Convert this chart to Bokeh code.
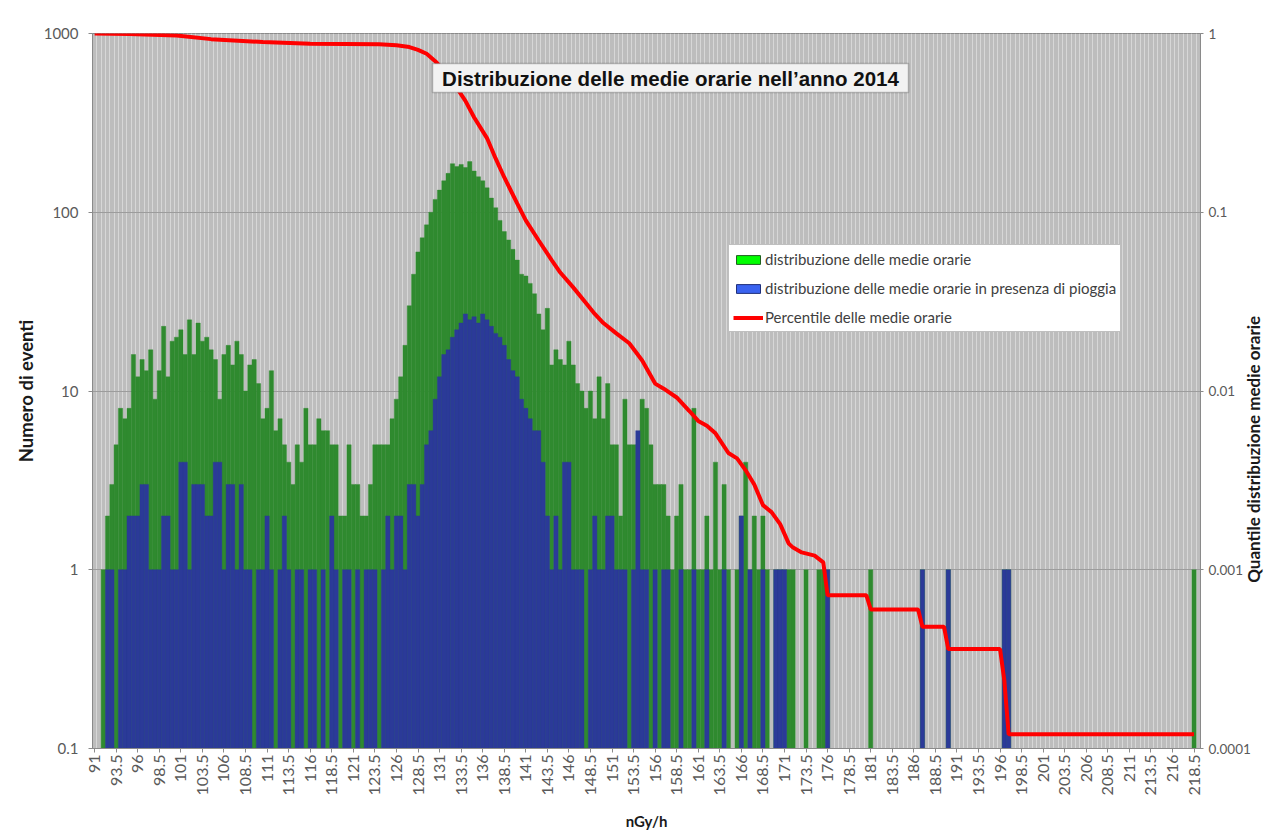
import math
from bokeh.plotting import figure
from bokeh.models import (Range1d, LogAxis, FixedTicker, LogScale, ColumnDataSource,
                          Legend, LegendItem, Label, BoxAnnotation)
from bokeh.embed import file_html
from bokeh.resources import INLINE

# ---------------- data ----------------
# categories: nGy/h bins 91 .. 218.5, step 0.5 (256 bins)
categories = [91 + 0.5 * k for k in range(256)]

x_tick_labels = ["91", "93.5", "96", "98.5", "101", "103.5", "106", "108.5", "111", "113.5",
                 "116", "118.5", "121", "123.5", "126", "128.5", "131", "133.5", "136", "138.5",
                 "141", "143.5", "146", "148.5", "151", "153.5", "156", "158.5", "161", "163.5",
                 "166", "168.5", "171", "173.5", "176", "178.5", "181", "183.5", "186", "188.5",
                 "191", "193.5", "196", "198.5", "201", "203.5", "206", "208.5", "211", "213.5",
                 "216", "218.5"]

# number of hourly means in each bin (all)
green_counts = [
    0, 0, 1, 2, 3, 5, 8, 7, 8, 16, 12, 15, 13, 17, 9, 13,              # 91 - 98.5
    23, 12, 19, 20, 22, 16, 25, 16, 24, 19, 20, 17, 15, 9, 16, 18,      # 99 - 106.5
    14, 19, 16, 10, 14, 15, 11, 7, 8, 13, 6, 7, 5, 4, 3, 5,             # 107 - 114.5
    4, 8, 5, 5, 7, 6, 6, 5, 5, 2, 2, 5, 3, 3, 2, 2,                     # 115 - 122.5
    3, 5, 5, 5, 5, 7, 9, 12, 18, 30, 45, 60, 72, 85, 100, 118,          # 123 - 130.5
    133, 150, 165, 187, 180, 185, 178, 192, 170, 158, 150, 137, 120, 106, 90, 78,   # 131 - 138.5
    70, 62, 54, 45, 44, 40, 35, 27, 22, 29, 14, 17, 15, 14, 19, 14,     # 139 - 146.5
    11, 10, 8, 10, 7, 12, 7, 11, 5, 5, 2, 9, 5, 5, 5, 9,                # 147 - 154.5
    8, 5, 3, 3, 3, 2, 1, 2, 3, 1, 1, 8, 1, 1, 2, 1,                     # 155 - 162.5
    4, 1, 3, 1, 0, 1, 2, 4, 1, 2, 1, 2, 1, 0, 1, 1,                     # 163 - 170.5
    1, 1, 1, 0, 0, 1, 0, 0, 1, 1, 1, 0, 0, 0, 0, 0,                     # 171 - 178.5
    0, 0, 0, 0, 1, 0, 0, 0, 0, 0, 0, 0, 0, 0, 0, 0,                     # 179 - 186.5
    1, 0, 0, 0, 0, 0, 1, 0, 0, 0, 0, 0, 0, 0, 0, 0,                     # 187 - 194.5
    0, 0, 0, 1, 1, 0, 0, 0, 0, 0, 0, 0, 0, 0, 0, 0,                     # 195 - 202.5
    0, 0, 0, 0, 0, 0, 0, 0, 0, 0, 0, 0, 0, 0, 0, 0,                     # 203 - 210.5
    0, 0, 0, 0, 0, 0, 0, 0, 0, 0, 0, 0, 0, 0, 0, 1,                     # 211 - 218.5
]

# number of hourly means in each bin with rain
rain_counts = [
    0, 0, 0, 1, 1, 0, 1, 1, 2, 2, 2, 3, 3, 1, 1, 1,
    2, 2, 1, 1, 4, 4, 1, 3, 3, 3, 2, 2, 4, 4, 1, 3,
    3, 1, 3, 1, 1, 0, 1, 1, 2, 1, 0, 1, 2, 1, 0, 1,
    1, 0, 1, 1, 0, 1, 0, 2, 1, 0, 1, 1, 0, 1, 0, 1,
    1, 1, 0, 1, 2, 1, 2, 2, 1, 3, 3, 2, 3, 5, 6, 9,
    12, 16, 17, 20, 22, 24, 27, 25, 26, 24, 27, 25, 23, 21, 20, 18,
    15, 13, 12, 9, 8, 7, 6, 6, 4, 2, 1, 2, 1, 4, 4, 1,
    1, 1, 0, 1, 2, 1, 1, 2, 2, 1, 1, 1, 0, 1, 6, 1,
    1, 0, 1, 0, 1, 1, 0, 0, 1, 0, 0, 1, 0, 0, 1, 0,
    0, 0, 1, 0, 0, 0, 2, 0, 1, 0, 0, 1, 0, 0, 1, 1,
    1, 0, 0, 0, 0, 0, 0, 0, 0, 0, 1, 0, 0, 0, 0, 0,
    0, 0, 0, 0, 0, 0, 0, 0, 0, 0, 0, 0, 0, 0, 0, 0,
    1, 0, 0, 0, 0, 0, 1, 0, 0, 0, 0, 0, 0, 0, 0, 0,
    0, 0, 0, 1, 1, 0, 0, 0, 0, 0, 0, 0, 0, 0, 0, 0,
    0, 0, 0, 0, 0, 0, 0, 0, 0, 0, 0, 0, 0, 0, 0, 0,
    0, 0, 0, 0, 0, 0, 0, 0, 0, 0, 0, 0, 0, 0, 0, 0,
]

# percentile (exceedance fraction) of the hourly means
pct_x = [91, 95, 100.5, 104.5, 110.5, 116, 124, 126, 127.5, 128.5, 129.5, 130.5, 131.5,
         132.5, 134, 135, 136.5, 137.5, 138.5, 140, 141, 142.5, 144, 145, 146.5, 148, 149,
         150, 151.5, 153, 154.5, 156, 157, 158.5, 160, 161, 162, 163, 164.5, 165.5, 166.5,
         167.5, 168.5, 169.5, 170.5, 171.5, 172, 173, 174.5, 175.5, 176, 180.5, 181, 186.5,
         187, 189.5, 190, 196, 196.5, 197, 218.5]
pct_y = [1.0, 0.995, 0.975, 0.93, 0.895, 0.875, 0.87, 0.86, 0.84, 0.81, 0.77, 0.70, 0.62,
         0.54, 0.42, 0.34, 0.26, 0.20, 0.157, 0.112, 0.09, 0.0695, 0.054, 0.046, 0.038, 0.031,
         0.027, 0.024, 0.021, 0.0185, 0.0148, 0.011, 0.0103, 0.0092, 0.0077, 0.0068, 0.0064,
         0.0058, 0.0045, 0.0042, 0.0036, 0.0030, 0.0023, 0.0021, 0.0018, 0.0014, 0.00133,
         0.00125, 0.0012, 0.0011, 0.00072, 0.00072, 0.0006, 0.0006, 0.00048, 0.00048,
         0.00036, 0.00036, 0.00024, 0.00012, 0.00012]

y_left_ticks = [0.1, 1, 10, 100, 1000]
y_left_labels = ["0.1", "1", "10", "100", "1000"]
y_right_ticks = [0.0001, 0.001, 0.01, 0.1, 1]
y_right_labels = ["0.0001", "0.001", "0.01", "0.1", "1"]

title_text = "Distribuzione delle medie orarie nell\u2019anno 2014"
legend_labels = ["distribuzione delle medie orarie",
                 "distribuzione delle medie orarie in presenza di pioggia",
                 "Percentile delle medie orarie"]
left_axis_title = "Numero di eventi"
right_axis_title = "Quantile distribuzione medie orarie"
x_axis_title = "nGy/h"

# ---------------- figure ----------------
FONT = "Lato"
p = figure(width=1277, height=837,
           x_range=Range1d(90.75, 219.25), y_range=Range1d(0.1, 1000),
           y_axis_type="log", output_backend="svg", toolbar_location=None,
           min_border_left=92, min_border_right=71, min_border_top=33, min_border_bottom=89)
p.background_fill_color = "#bdbdbd"
p.border_fill_color = "white"
p.outline_line_color = "#8a8a8a"

p.extra_y_ranges = {"q": Range1d(0.0001, 1)}
p.extra_y_scales = {"q": LogScale()}

# grid
p.xgrid.ticker = FixedTicker(ticks=[c - 0.25 for c in categories] + [categories[-1] + 0.25])
p.xgrid.grid_line_color = "#d7d7d7"
p.xgrid.grid_line_width = 1
p.ygrid.ticker = FixedTicker(ticks=[1, 10, 100])
p.ygrid.grid_line_color = "#9c9c9c"

# bars
g_src = ColumnDataSource(dict(
    x=[c for c, v in zip(categories, green_counts) if v > 0],
    top=[v for v in green_counts if v > 0]))
b_src = ColumnDataSource(dict(
    x=[c for c, v in zip(categories, rain_counts) if v > 0],
    top=[v for v in rain_counts if v > 0]))
p.vbar(x="x", top="top", bottom=0.01, width=0.5, source=g_src,
       fill_color="#2f8a2f", line_color="#2f8a2f", line_width=0.4)
p.vbar(x="x", top="top", bottom=0.01, width=0.5, source=b_src,
       fill_color="#2b3a98", line_color="#2b3a98", line_width=0.4)

# percentile line
p.line(x=pct_x, y=pct_y, y_range_name="q", line_color="#ff0000", line_width=4)

# legend proxies (placed outside the visible x range so only the legend shows them)
lg_g = p.vbar(x=[0], top=[1], width=0.5, fill_color="#00ff00", line_color="#1f5f1f")
lg_b = p.vbar(x=[0], top=[1], width=0.5, fill_color="#3a63f0", line_color="#1f2f7a")
lg_r = p.line(x=[0, 1], y=[1, 1], line_color="#ff0000", line_width=4)
legend = Legend(items=[LegendItem(label=legend_labels[0], renderers=[lg_g]),
                       LegendItem(label=legend_labels[1], renderers=[lg_b]),
                       LegendItem(label=legend_labels[2], renderers=[lg_r])],
                location=(636, 416))
legend.background_fill_color = "white"
legend.background_fill_alpha = 1
legend.border_line_color = "#7f7f7f"
legend.label_text_font = FONT
legend.label_text_font_size = "15px"
legend.label_text_color = "#404040"
legend.glyph_width = 30
legend.glyph_height = 11
legend.label_height = 20
legend.spacing = 9
legend.padding = 4
legend.margin = 0
legend.label_standoff = 2
p.add_layout(legend)

# axes
TICK_COLOR = "#5a5a5a"
yl = p.yaxis[0]
yl.ticker = FixedTicker(ticks=y_left_ticks)
yl.major_label_overrides = dict(zip(y_left_ticks, y_left_labels))
yl.axis_label = left_axis_title

yr = LogAxis(y_range_name="q", ticker=FixedTicker(ticks=y_right_ticks))
yr.major_label_overrides = dict(zip(y_right_ticks, y_right_labels))
# the title reads bottom-to-top; it is anchored at the bottom of the axis and pushed up
# with em-spaces so that it sits where the original one is
yr.axis_label = "\u2003" * 13 + right_axis_title
try:
    yr.axis_label_orientation = math.pi / 2
    yr.axis_label_align = "start"
except Exception:
    yr.axis_label = right_axis_title
p.add_layout(yr, "right")

xa = p.xaxis[0]
xa.ticker = FixedTicker(ticks=[float(s) for s in x_tick_labels])
xa.major_label_overrides = {float(s): s for s in x_tick_labels}
xa.major_label_orientation = math.pi / 2
xa.axis_label = x_axis_title

for ax in (yl, yr, xa):
    ax.axis_line_color = "#8a8a8a"
    ax.major_tick_line_color = "#8a8a8a"
    ax.major_tick_out = 4
    ax.major_tick_in = 0
    ax.minor_tick_line_color = None
    ax.major_label_text_font = FONT
    ax.major_label_text_color = TICK_COLOR
    ax.axis_label_text_font = FONT
    ax.axis_label_text_font_style = "bold"
    ax.axis_label_text_color = "#1a1a1a"
yl.major_label_text_font_size = "15px"
yl.major_label_standoff = 10
yl.axis_label_text_font_size = "18.5px"
yl.axis_label_standoff = 4
yr.major_tick_out = 3
yr.major_label_text_font_size = "13.5px"
yr.major_label_standoff = 5
yr.axis_label_text_font_size = "17px"
yr.axis_label_standoff = 0
xa.major_label_text_font_size = "16px"
xa.major_label_standoff = 2
xa.axis_label_text_font_size = "15px"
xa.axis_label_standoff = 14

# chart title box inside plot area
p.add_layout(BoxAnnotation(left=340, right=816, top=685, bottom=656,
                           left_units="screen", right_units="screen",
                           top_units="screen", bottom_units="screen",
                           fill_color="#f2f2f2", fill_alpha=1,
                           line_color="#3c3c3c", line_width=1.5))
p.add_layout(Label(x=578, y=670.5, x_units="screen", y_units="screen", text=title_text,
                   text_align="center", text_baseline="middle",
                   text_font="Liberation Sans", text_font_style="bold",
                   text_font_size="20.5px", text_color="#111111"))

open("out.html", "w").write(file_html(p, INLINE))
